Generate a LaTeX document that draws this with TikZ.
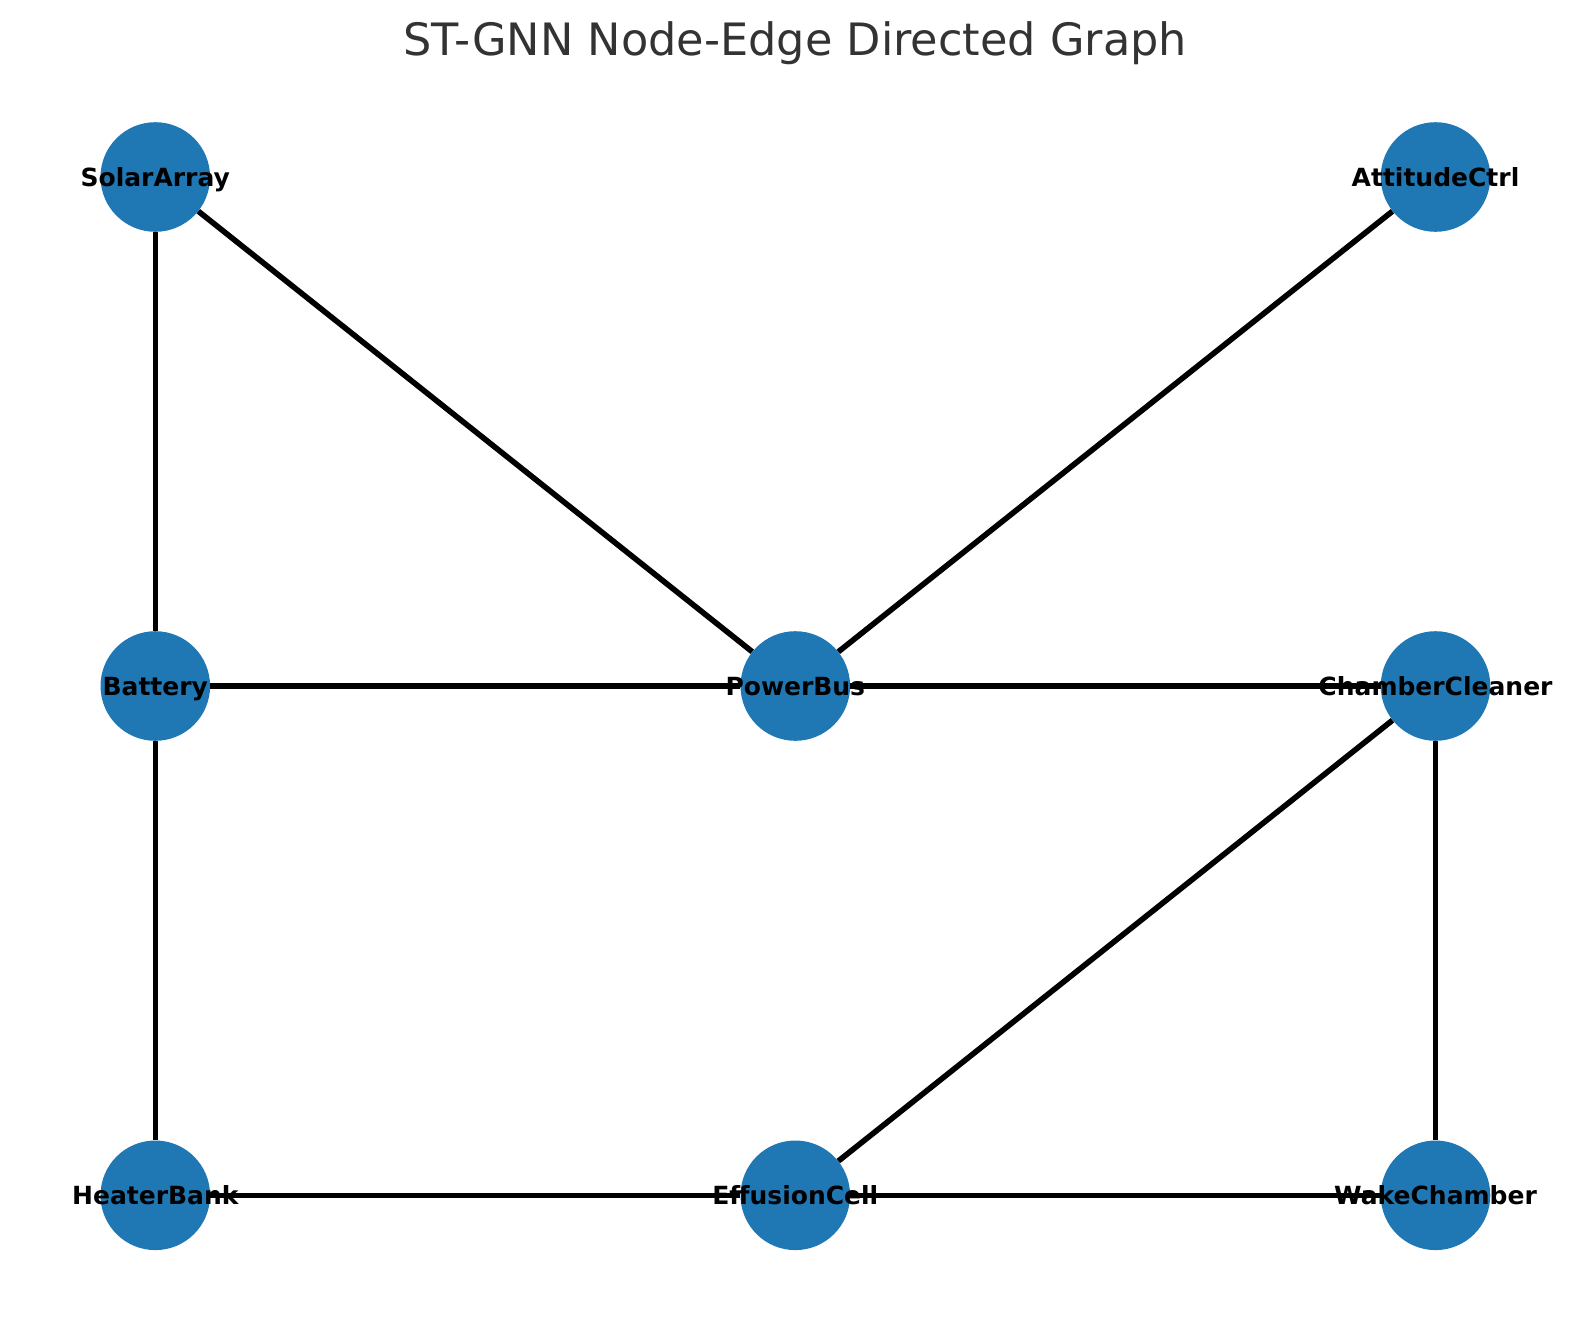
\documentclass[tikz,border=0pt]{standalone}
\usepackage{fontspec}
\setmainfont{DejaVu Sans}
\definecolor{nodeblue}{HTML}{1F77B4}
\definecolor{titlegray}{HTML}{333333}
\tikzset{
  vert/.style={circle, fill=nodeblue, draw=none, minimum size=109.6pt, inner sep=0pt},
  vlabel/.style={anchor=base, inner sep=0pt, font=\fontsize{25pt}{25pt}\selectfont\bfseries, text=black},
  edge/.style={draw=black, line width=5.6pt},
}
\begin{document}
\begin{tikzpicture}[x=1pt,y=-1pt]
\useasboundingbox (0,0) rectangle (1589,1322);
\node[anchor=base, inner sep=0pt, text=titlegray, font=\fontsize{44.6pt}{44.6pt}\selectfont] (title) at (795,56) {ST-GNN Node-Edge Directed Graph};
\node[vert] (sa) at (155.3,177) {};
\node[vert] (ac) at (1435.5,177) {};
\node[vert] (bat) at (155.3,686) {};
\node[vert] (pb) at (795.3,686) {};
\node[vert] (cc) at (1435.5,686) {};
\node[vert] (hb) at (155.3,1195.3) {};
\node[vert] (ec) at (795.3,1195.3) {};
\node[vert] (wc) at (1435.5,1195.3) {};
\draw[edge] (sa) -- (bat);
\draw[edge] (sa) -- (pb);
\draw[edge] (ac) -- (pb);
\draw[edge] (bat) -- (pb);
\draw[edge] (pb) -- (cc);
\draw[edge] (bat) -- (hb);
\draw[edge] (cc) -- (ec);
\draw[edge] (cc) -- (wc);
\draw[edge] (hb) -- (ec);
\draw[edge] (ec) -- (wc);
\node[vlabel] (sa-t) at ([yshift=-9pt]sa.center) {SolarArray};
\node[vlabel] (ac-t) at ([yshift=-9pt]ac.center) {AttitudeCtrl};
\node[vlabel] (bat-t) at ([yshift=-9pt]bat.center) {Battery};
\node[vlabel] (pb-t) at ([yshift=-9pt]pb.center) {PowerBus};
\node[vlabel] (cc-t) at ([yshift=-9pt]cc.center) {ChamberCleaner};
\node[vlabel] (hb-t) at ([yshift=-9pt]hb.center) {HeaterBank};
\node[vlabel] (ec-t) at ([yshift=-9pt]ec.center) {EffusionCell};
\node[vlabel] (wc-t) at ([yshift=-9pt]wc.center) {WakeChamber};
\end{tikzpicture}
\end{document}
